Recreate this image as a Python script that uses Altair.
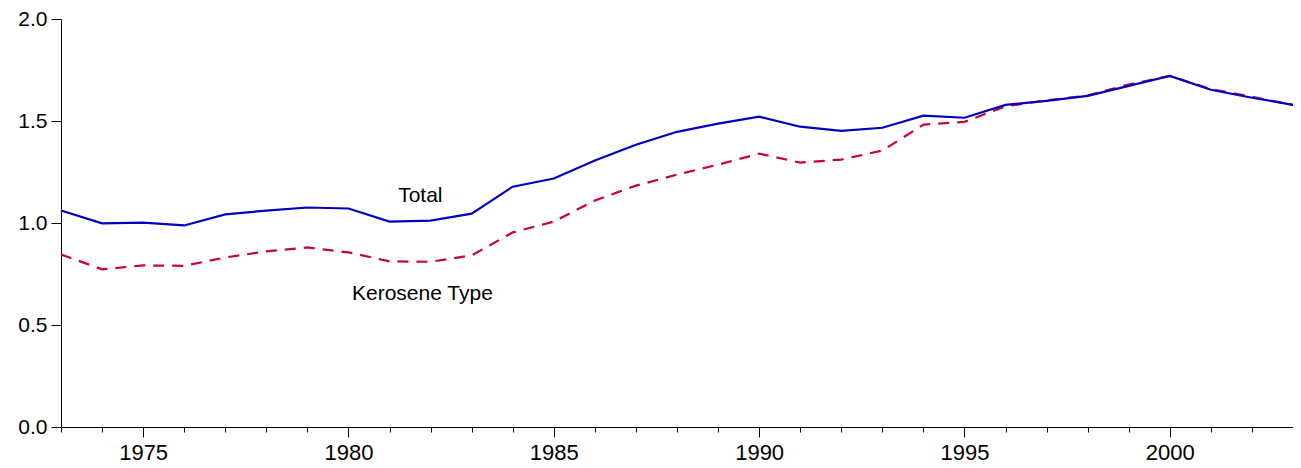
import altair as alt
import pandas as pd

years = list(range(1973, 2004))
total = [1.061, 0.998, 1.002, 0.988, 1.042, 1.061, 1.076, 1.071, 1.007, 1.012,
         1.046, 1.178, 1.218, 1.306, 1.384, 1.447, 1.487, 1.521, 1.472, 1.452,
         1.467, 1.526, 1.516, 1.579, 1.599, 1.623, 1.672, 1.721, 1.653, 1.614, 1.579]
kerosene = [0.846, 0.773, 0.792, 0.790, 0.831, 0.861, 0.880, 0.856, 0.812, 0.810,
            0.841, 0.954, 1.007, 1.110, 1.183, 1.237, 1.286, 1.340, 1.296, 1.311,
            1.355, 1.482, 1.496, 1.572, 1.601, 1.625, 1.679, 1.721, 1.656, 1.619, 1.579]

label_text = ["Total", "Kerosene Type"]
label_x = [1981.75, 1981.8]
label_y = [1.13, 0.65]

df = pd.DataFrame({"year": years, "total": total, "kerosene": kerosene})
lab = pd.DataFrame({"text": label_text, "x": label_x, "y": label_y})

FONT = "Liberation Sans"

xscale = alt.Scale(domain=[1973, 2003], nice=False, zero=False)
yscale = alt.Scale(domain=[0, 2], nice=False)

xaxis = alt.Axis(
    values=years,
    labelExpr="datum.value % 5 == 0 ? datum.label : ''",
    format="d",
    tickSize={"condition": {"test": "datum.value % 5 == 0", "value": 10}, "value": 5},
    tickColor="black",
    domainColor="black",
    labelColor="black",
    labelFont=FONT,
    labelFontSize=22,
    labelPadding=5,
    grid=False,
    title=None,
    labelFlush=False,
    labelOverlap=False,
)
yaxis = alt.Axis(
    values=[0, 0.5, 1.0, 1.5, 2.0],
    format=".1f",
    tickSize=10,
    tickColor="black",
    domainColor="black",
    labelColor="black",
    labelFont=FONT,
    labelFontSize=21,
    labelPadding=4,
    grid=False,
    title=None,
)

base = alt.Chart(df)

ker = base.mark_line(color="#C8003C", strokeWidth=2.2, strokeDash=[11, 8]).encode(
    x=alt.X("year:Q", scale=xscale, axis=xaxis),
    y=alt.Y("kerosene:Q", scale=yscale, axis=yaxis),
)
tot = base.mark_line(color="#0000C0", strokeWidth=2.2).encode(
    x=alt.X("year:Q", scale=xscale),
    y=alt.Y("total:Q", scale=yscale),
)
txt = alt.Chart(lab).mark_text(font=FONT, fontSize=21, color="black").encode(
    x=alt.X("x:Q", scale=xscale),
    y=alt.Y("y:Q", scale=yscale),
    text="text:N",
)

chart = alt.layer(ker, tot, txt).properties(
    width=1232, height=408,
    autosize=alt.AutoSizeParams(type="none"),
    padding={"left": 53, "top": 11, "right": 0, "bottom": 42},
).configure_view(stroke=None)

chart.save("out.html", embed_options={"renderer": "svg", "actions": False})
